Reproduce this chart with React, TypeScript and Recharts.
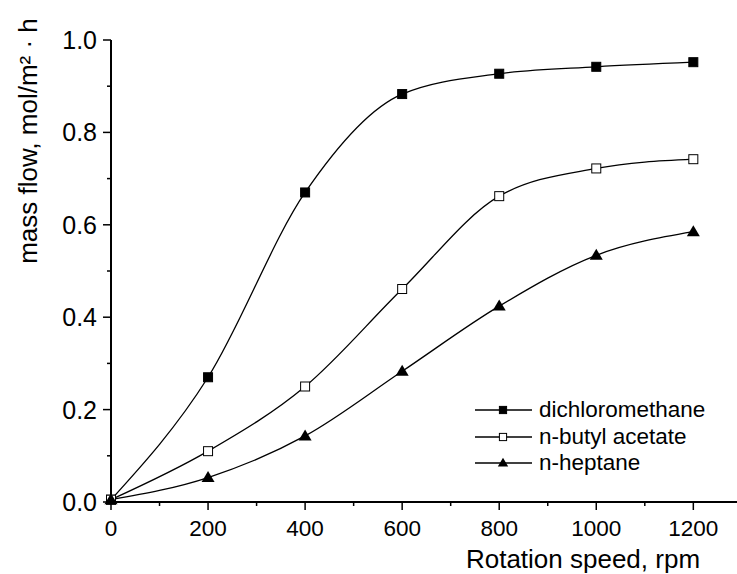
import { LineChart, Line, XAxis, YAxis } from "recharts";

const rpm = [0, 200, 400, 600, 800, 1000, 1200];
const dichloromethane = [0.005, 0.27, 0.67, 0.883, 0.927, 0.942, 0.952];
const butylAcetate = [0.005, 0.11, 0.25, 0.461, 0.662, 0.722, 0.742];
const heptane = [0.005, 0.053, 0.143, 0.283, 0.424, 0.534, 0.585];

const xTicks = [0, 100, 200, 300, 400, 500, 600, 700, 800, 900, 1000, 1100, 1200];
const yTicks = [0, 0.1, 0.2, 0.3, 0.4, 0.5, 0.6, 0.7, 0.8, 0.9, 1.0];

const FONT = "'Liberation Sans', Arial, sans-serif";

const data = rpm.map((x, i) => ({
  rpm: x,
  dcm: dichloromethane[i],
  nba: butylAcetate[i],
  hep: heptane[i],
}));

const series = [
  { key: "dcm", name: "dichloromethane", shape: "filled" },
  { key: "nba", name: "n-butyl acetate", shape: "open" },
  { key: "hep", name: "n-heptane", shape: "triangle" },
];

function Marker({ cx, cy, shape, scale = 1 }: any) {
  if (cx == null || cy == null) return null;
  if (shape === "triangle") {
    const w = 6.5 * scale;
    return (
      <polygon
        points={`${cx},${cy - 6.5 * scale} ${cx - w},${cy + 4.5 * scale} ${cx + w},${cy + 4.5 * scale}`}
        fill="#000"
      />
    );
  }
  const s = 4.5 * scale;
  return (
    <rect
      x={cx - s}
      y={cy - s}
      width={2 * s}
      height={2 * s}
      fill={shape === "open" ? "#fff" : "#000"}
      stroke="#000"
      strokeWidth={1}
    />
  );
}

const isMajor = (v: number, step: number) => Math.abs(v / step - Math.round(v / step)) < 1e-6;

function XTick({ x, y, payload }: any) {
  const major = isMajor(payload.value, 200);
  return (
    <g>
      <line x1={x} y1={y} x2={x} y2={y + (major ? 8 : 4)} stroke="#000" strokeWidth={1.5} />
      {major && (
        <text x={x} y={y + 34} textAnchor="middle" fontSize={22.5} fontFamily={FONT} fill="#000">
          {payload.value}
        </text>
      )}
    </g>
  );
}

function YTick({ x, y, payload }: any) {
  const major = isMajor(payload.value, 0.2);
  return (
    <g>
      <line x1={x - (major ? 8 : 4)} y1={y} x2={x} y2={y} stroke="#000" strokeWidth={1.5} />
      {major && (
        <text x={x - 14} y={y + 9} textAnchor="end" fontSize={25} fontFamily={FONT} fill="#000">
          {payload.value.toFixed(1)}
        </text>
      )}
    </g>
  );
}

function LegendBox() {
  return (
    <div
      style={{
        position: "absolute",
        left: 475,
        top: 397,
        fontFamily: FONT,
        fontSize: 22.5,
        color: "#000",
        whiteSpace: "nowrap",
      }}
    >
      {series.map((s) => (
        <div key={s.key} style={{ display: "flex", alignItems: "center", height: 26.5 }}>
          <svg width={64} height={26} style={{ display: "block" }}>
            <line x1={0} y1={13} x2={57} y2={13} stroke="#000" strokeWidth={1.3} />
            <Marker cx={28} cy={13} shape={s.shape} scale={0.8} />
          </svg>
          <span style={{ lineHeight: "26px" }}>{s.name}</span>
        </div>
      ))}
    </div>
  );
}

export default function App() {
  return (
    <div style={{ position: "absolute", left: 0, top: 0, width: 737, height: 574, background: "#fff" }}>
      <LineChart width={737} height={574} data={data} margin={{ top: 40, right: 0, bottom: 0, left: 0 }}>
        <XAxis
          dataKey="rpm"
          type="number"
          domain={[0, 1290]}
          ticks={xTicks}
          interval={0}
          height={72}
          tickSize={0}
          tickMargin={0}
          tick={<XTick />}
          axisLine={{ stroke: "#000", strokeWidth: 2 }}
        />
        <YAxis
          type="number"
          domain={[0, 1]}
          ticks={yTicks}
          interval={0}
          width={111}
          tickSize={0}
          tickMargin={0}
          tick={<YTick />}
          axisLine={{ stroke: "#000", strokeWidth: 2 }}
        />
        {series.map((s) => (
          <Line
            key={s.key}
            dataKey={s.key}
            name={s.name}
            type="monotone"
            stroke="#000"
            strokeWidth={1.3}
            isAnimationActive={false}
            dot={(p: any) => <Marker key={`${s.key}-${p.index}`} cx={p.cx} cy={p.cy} shape={s.shape} />}
            activeDot={false}
          />
        ))}
        <text x={583} y={568} textAnchor="middle" fontSize={26} fontFamily={FONT} fill="#000">
          Rotation speed, rpm
        </text>
        <text
          x={37}
          y={141}
          transform="rotate(-90, 37, 141)"
          textAnchor="middle"
          fontSize={26}
          fontFamily={FONT}
          fill="#000"
        >
          mass flow, mol/m² · h
        </text>
      </LineChart>
      <LegendBox />
    </div>
  );
}
